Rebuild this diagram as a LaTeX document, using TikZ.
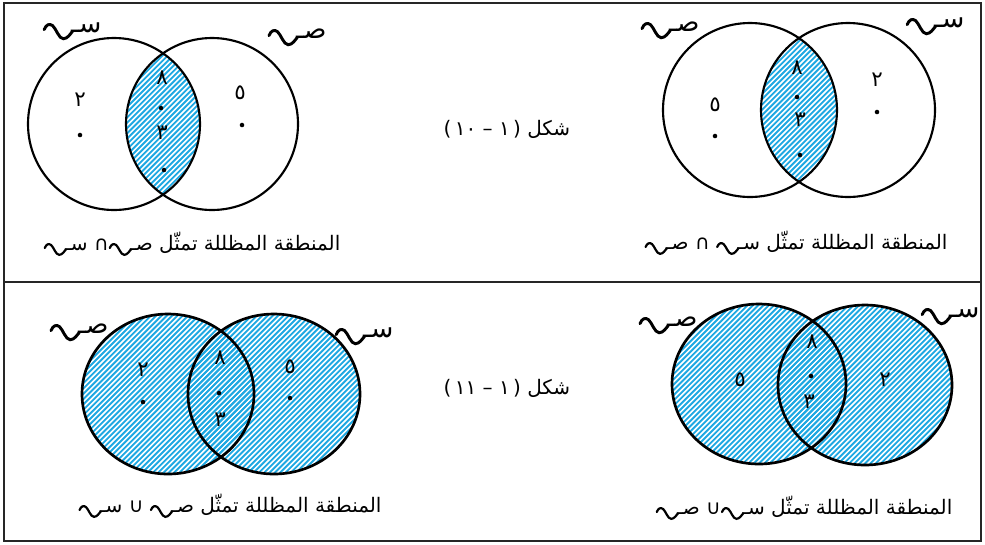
\documentclass[tikz,border=0pt]{standalone}
\usepackage{fontspec}
\usepackage{graphicx}
\TeXXeTstate=1
\newfontfamily\arabicfont[Script=Arabic]{DejaVu Sans}
\newfontfamily\symfont{DejaVu Sans}
\definecolor{hatchblue}{HTML}{1EA8E2}
\newcommand{\wavemark}{\begin{tikzpicture}[baseline=0pt,x=1em,y=1em]
  \draw[line width=0.11em, line cap=round] (0,0.12) .. controls (0.08,0.32) and (0.2,0.36) .. (0.32,0.27) .. controls (0.45,0.16) and (0.55,-0.22) .. (0.72,-0.22) .. controls (0.88,-0.22) and (0.98,-0.04) .. (1.06,0.05);
\end{tikzpicture}}
\newcommand{\sname}[1]{{\wavemark\kern-0.1em\beginR #1ـ\endR}}
\newcommand{\capAr}{\beginR المنطقة المظللة تمثّل\endR}
\newcommand{\figlab}[1]{{\symfont(\,}\beginL #1\endL{\symfont\ – ١\,)}\ \beginR شكل\endR}
\tikzset{
  frameline/.style={line width=2pt, draw=black!85},
  vennline/.style={line width=1.6pt, draw=black},
  hatchline/.style={line width=1.4pt, draw=hatchblue},
  setlabel/.style={font=\arabicfont\fontsize{20}{24}\selectfont, inner sep=0pt},
  digit/.style={font=\arabicfont\fontsize{16}{19}\selectfont, inner sep=0pt},
  caption/.style={font=\arabicfont\fontsize{15}{18}\selectfont, inner sep=0pt},
  figlabel/.style={font=\arabicfont\fontsize{15}{18}\selectfont, inner sep=0pt},
  elemdot/.style={fill=black, inner sep=0pt, minimum size=3.4pt, circle}
}
\newcommand{\hatchlines}[2]{%
  \foreach \k in {-48,...,48} {\draw[hatchline] (#1+5.3*\k-130,#2+130) -- ++(260,-260);}}
\begin{document}
\begin{tikzpicture}[x=0.75pt,y=-0.75pt]
\useasboundingbox (0,0) rectangle (985,544);
% frame
\draw[frameline] (4,3) rectangle (981,541);
\draw[frameline] (4,282) -- (981,282);

% ---------- top-left: intersection ----------
\begin{scope}
  \clip (114,124) circle (86);
  \clip (212,124) circle (86);
  \hatchlines{163}{124}
\end{scope}
\draw[vennline] (114,124) circle (86);
\draw[vennline] (212,124) circle (86);
\node[setlabel] (tlS) at (72,31) {\sname{س}};
\node[setlabel] (tlP) at (297,37) {\sname{ص}};
\node[digit] (tl2) at (80,100) {٢};
\node[elemdot] (tl2d) at (80,135) {};
\node[digit] (tl8) at (162,78) {٨};
\node[elemdot] (tl8d) at (161,108) {};
\node[digit] (tl3) at (162,133) {٣};
\node[elemdot] (tl3d) at (164,170) {};
\node[digit] (tl5) at (240,93) {٥};
\node[elemdot] (tl5d) at (242,125) {};
\node[caption] (tlcap) at (192,244) {\sname{س}\ ∩\sname{ص}\ \capAr};

% ---------- top-right: intersection ----------
\begin{scope}
  \clip (750,110) circle (87);
  \clip (848,110) circle (87);
  \hatchlines{799}{110}
\end{scope}
\draw[vennline] (750,110) circle (87);
\draw[vennline] (848,110) circle (87);
\node[setlabel] (trP) at (670,30) {\sname{ص}};
\node[setlabel] (trS) at (935,26) {\sname{س}};
\node[digit] (tr5) at (715,105) {٥};
\node[elemdot] (tr5d) at (715,136) {};
\node[digit] (tr8) at (797,68) {٨};
\node[elemdot] (tr8d) at (797,97) {};
\node[digit] (tr3) at (800,120) {٣};
\node[elemdot] (tr3d) at (800,155) {};
\node[digit] (tr2) at (877,80) {٢};
\node[elemdot] (tr2d) at (877,112) {};
\node[caption] (trcap) at (796,243) {\sname{ص}\ ∩\ \sname{س}\ \capAr};

% ---------- figure labels ----------
\node[figlabel] (fig10) at (507,129) {\figlab{١٠}};
\node[figlabel] (fig11) at (507,388) {\figlab{١١}};

% ---------- bottom-left: union ----------
\begin{scope}
  \clip (168,394) ellipse (86 and 80);
  \hatchlines{168}{394}
\end{scope}
\begin{scope}
  \clip (274,394) ellipse (86 and 80);
  \hatchlines{168}{394}
\end{scope}
\draw[vennline, line width=2pt] (168,394) ellipse (86 and 80);
\draw[vennline, line width=2pt] (274,394) ellipse (86 and 80);
\node[setlabel] (blP) at (79,332) {\sname{ص}};
\node[setlabel] (blS) at (364,336) {\sname{س}};
\node[digit] (bl2) at (143,370) {٢};
\node[elemdot] (bl2d) at (143,402) {};
\node[digit] (bl8) at (220,358) {٨};
\node[elemdot] (bl8d) at (219,393) {};
\node[digit] (bl3) at (220,420) {٣};
\node[digit] (bl5) at (290,367) {٥};
\node[elemdot] (bl5d) at (290,398) {};
\node[caption] (blcap) at (230,506) {\sname{س}\ ∪\ \sname{ص}\ \capAr};

% ---------- bottom-right: union ----------
\begin{scope}
  \clip (759,384) ellipse (87 and 80);
  \hatchlines{812}{384}
\end{scope}
\begin{scope}
  \clip (865,385) ellipse (87 and 80);
  \hatchlines{812}{384}
\end{scope}
\draw[vennline, line width=2pt] (759,384) ellipse (87 and 80);
\draw[vennline, line width=2pt] (865,385) ellipse (87 and 80);
\node[setlabel] (brP) at (668,325) {\sname{ص}};
\node[setlabel] (brS) at (950,316) {\sname{س}};
\node[digit] (br5) at (740,380) {٥};
\node[digit] (br8) at (812,342) {٨};
\node[elemdot] (br8d) at (811,376) {};
\node[digit] (br3) at (809,402) {٣};
\node[digit] (br2) at (885,380) {٢};
\node[caption] (brcap) at (804,508) {\sname{ص}\ ∪\sname{س}\ \capAr};
\end{tikzpicture}
\end{document}
